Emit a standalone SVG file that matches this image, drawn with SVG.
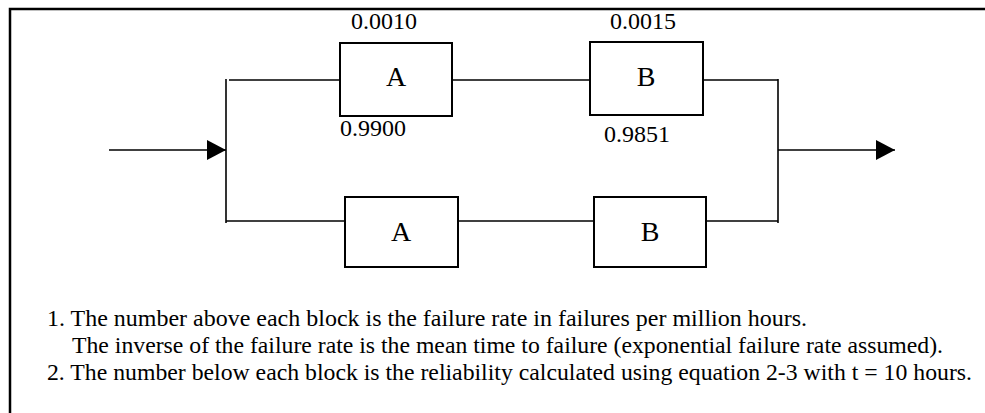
<svg xmlns="http://www.w3.org/2000/svg" width="985" height="413" viewBox="0 0 985 413">
  <style>
    .frame { fill: none; stroke: #000; stroke-width: 2.5; }
    .box { fill: #fff; stroke: #000; stroke-width: 2; }
    .wire { fill: none; stroke: #000; stroke-width: 1.6; }
    .t { font-family: "Liberation Serif", "Times New Roman", serif; fill: #000; }
    .num { font-size: 24px; }
    .lbl { font-size: 28px; text-anchor: middle; }
    .note { font-size: 24px; }
  </style>
  <defs>
    <marker id="arrow" markerUnits="userSpaceOnUse" markerWidth="20" markerHeight="22" refX="19" refY="10" orient="auto">
      <path d="M0,0 L19,10 L0,20 Z" fill="#000"/>
    </marker>
  </defs>
  <rect width="985" height="413" fill="#fff"/>
  <rect class="frame" x="10" y="9" width="1000" height="420"/>

  <g id="connectors">
    <line class="wire" x1="109" y1="150" x2="226" y2="150" marker-end="url(#arrow)"/>
    <line class="wire" x1="226" y1="79" x2="226" y2="223"/>
    <line class="wire" x1="229" y1="80" x2="340" y2="80"/>
    <line class="wire" x1="452" y1="80" x2="590" y2="80"/>
    <line class="wire" x1="703" y1="80" x2="778" y2="80"/>
    <line class="wire" x1="226" y1="221" x2="345" y2="221"/>
    <line class="wire" x1="458" y1="221" x2="594" y2="221"/>
    <line class="wire" x1="706" y1="221" x2="778" y2="221"/>
    <line class="wire" x1="778" y1="79" x2="778" y2="223"/>
    <line class="wire" x1="778" y1="150" x2="895" y2="150" marker-end="url(#arrow)"/>
  </g>

  <g id="nodeA1">
    <rect class="box" x="340" y="43" width="112" height="73"/>
    <text class="t lbl" x="396" y="86">A</text>
    <text class="t num" x="351" y="29">0.0010</text>
    <text class="t num" x="340" y="136">0.9900</text>
  </g>
  <g id="nodeB1">
    <rect class="box" x="590" y="42" width="113" height="73"/>
    <text class="t lbl" x="646" y="86">B</text>
    <text class="t num" x="610" y="29">0.0015</text>
    <text class="t num" x="604" y="142">0.9851</text>
  </g>
  <g id="nodeA2">
    <rect class="box" x="345" y="197" width="113" height="70"/>
    <text class="t lbl" x="401" y="241">A</text>
  </g>
  <g id="nodeB2">
    <rect class="box" x="594" y="197" width="112" height="70"/>
    <text class="t lbl" x="650" y="241">B</text>
  </g>

  <g id="notes">
    <text class="t note" x="47" y="326" textLength="760" lengthAdjust="spacingAndGlyphs">1. The number above each block is the failure rate in failures per million hours.</text>
    <text class="t note" x="72" y="353" textLength="871" lengthAdjust="spacingAndGlyphs">The inverse of the failure rate is the mean time to failure (exponential failure rate assumed).</text>
    <text class="t note" x="47" y="380" textLength="925" lengthAdjust="spacingAndGlyphs">2. The number below each block is the reliability calculated using equation 2-3 with t = 10 hours.</text>
  </g>
</svg>
